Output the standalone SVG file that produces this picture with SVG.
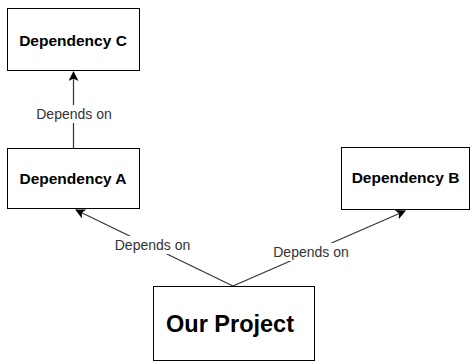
<svg xmlns="http://www.w3.org/2000/svg" width="472" height="362" viewBox="0 0 472 362">
<style>
.box{fill:#fff;stroke:#000;stroke-width:1}
.t{font-family:"Liberation Sans",Arial,sans-serif;font-weight:bold;font-size:15.5px;text-anchor:middle;dominant-baseline:central;fill:#000}
.big{font-size:23.5px}
.e{stroke:#333;stroke-width:1.2;fill:none}
.lbl{font-family:"Liberation Sans",Arial,sans-serif;font-size:14px;text-anchor:middle;dominant-baseline:central;fill:#333}
.bg{fill:#fff}
</style>
<defs>
<marker id="ah" viewBox="0 0 10 10" refX="9" refY="5" markerWidth="10" markerHeight="10" markerUnits="userSpaceOnUse" orient="auto">
<path d="M0,0 L10,5 L0,10 L2.5,5 Z" fill="#000"/>
</marker>
</defs>
<g id="connectors">
<line class="e" x1="73.5" y1="148" x2="73.5" y2="72" marker-end="url(#ah)"/>
<rect class="bg" x="34" y="105" width="80" height="18"/>
<text class="lbl" x="74" y="114">Depends on</text>
<line class="e" x1="233" y1="286" x2="76" y2="210" marker-end="url(#ah)"/>
<rect class="bg" x="111" y="236" width="84" height="18"/>
<text class="lbl" x="152.5" y="245">Depends on</text>
<line class="e" x1="233" y1="286" x2="405" y2="211" marker-end="url(#ah)"/>
<rect class="bg" x="269" y="243" width="84" height="18"/>
<text class="lbl" x="311" y="252">Depends on</text>
</g>
<g id="dep-c">
<rect class="box" x="7.5" y="8.5" width="132" height="62"/>
<text class="t" x="73" y="40">Dependency C</text>
</g>
<g id="dep-a">
<rect class="box" x="7.5" y="148.5" width="132" height="60"/>
<text class="t" x="73" y="178">Dependency A</text>
</g>
<g id="dep-b">
<rect class="box" x="341.5" y="147.5" width="128" height="62"/>
<text class="t" x="405.5" y="177">Dependency B</text>
</g>
<g id="our-project">
<rect class="box" x="153.5" y="286.5" width="161" height="74"/>
<text class="t big" x="230" y="324">Our Project</text>
</g>
</svg>
